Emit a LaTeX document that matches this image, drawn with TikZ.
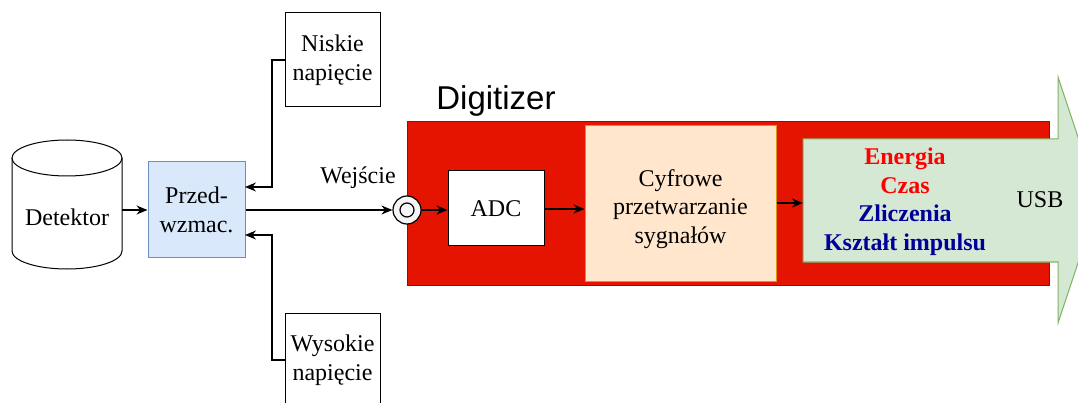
\documentclass[tikz,border=0pt]{standalone}
\usepackage{fontspec}
\setmainfont{Liberation Serif}
\newfontfamily\labelsans{Liberation Sans}
\usetikzlibrary{arrows.meta}
\definecolor{digired}{HTML}{E51400}
\definecolor{digiredline}{HTML}{B20000}
\definecolor{bluefill}{HTML}{DAE8FC}
\definecolor{blueline}{HTML}{6C8EBF}
\definecolor{orangefill}{HTML}{FFE6CC}
\definecolor{orangeline}{HTML}{D79B00}
\definecolor{greenfill}{HTML}{D5E8D4}
\definecolor{greenline}{HTML}{82B366}
\definecolor{txtred}{HTML}{FF0000}
\definecolor{txtblue}{HTML}{000099}
\tikzset{
  txt/.style={font=\fontsize{24}{28.5}\selectfont, align=center, inner sep=0pt},
  box/.style={draw, line width=1pt, txt},
  supply/.style={box, fill=white, minimum width=95, minimum height=94, font=\fontsize{24}{29.5}\selectfont},
  arr/.style={line width=1.2pt, -{Stealth[length=11pt,width=9pt]}},
}
\begin{document}
\begin{tikzpicture}[x=1pt,y=-1pt]
\useasboundingbox (0,0) rectangle (1078,403);
\clip (0,0) rectangle (1078,403);
\fill[white] (0,0) rectangle (1078,403);

% detector (cylinder)
\draw[line width=1pt, fill=white] (12,158) -- (12,251)
  arc[start angle=180, end angle=0, x radius=55, y radius=18] -- (122,158);
\draw[line width=1pt, fill=white] (67,158) ellipse [x radius=55, y radius=18];
\node[txt] (det) at (67,217) {Detektor};
\coordinate (detR) at (122,210);

% preamplifier
\node[box, draw=blueline, fill=bluefill, minimum width=97, minimum height=96] (pre) at (196.5,210) {Przed-\\wzmac.};
\coordinate (preN) at (245,187);
\coordinate (preS) at (245,235);

% supplies
\node[supply] (low) at (332.5,60) {Niskie\\napięcie};
\node[supply] (high) at (332.5,360) {Wysokie\\napięcie};

% digitizer body
\fill[digired] (407,121) rectangle (1049,285);
\draw[digiredline, line width=0.8pt] (407,121) rectangle (1049,285);
\node[font=\labelsans\fontsize{33}{38}\selectfont, inner sep=0pt] (digi) at (496,101) {Digitizer};

% input connector
\node[circle, draw, line width=1.2pt, fill=white!96!black, minimum size=28, inner sep=0pt] (conn) at (407,210) {};
\draw[line width=1.2pt, fill=white!96!black] (conn.center) circle[radius=7];
\node[txt] (wej) at (358,178) {Wejście};

% processing blocks
\node[box, fill=white, minimum width=96, minimum height=75] (adc) at (496,208.5) {ADC};
\node[box, draw=orangeline, fill=orangefill, minimum width=191, minimum height=155] (dsp) at (680.5,203.5) {};
\node[txt] (dsptxt) at (680.5,209) {Cyfrowe\\przetwarzanie\\sygnałów};

% output arrow (USB)
\draw[line width=1pt, draw=greenline, fill=greenfill]
  (803,139) -- (1058,139) -- (1058,77) -- (1099,200) -- (1058,323) -- (1058,262) -- (803,262) -- cycle;
\coordinate (outW) at (803,203);
\node[txt, font=\bfseries\fontsize{24}{28.5}\selectfont] (res) at (905,201.5)
  {\textcolor{txtred}{Energia}\\\textcolor{txtred}{Czas}\\\textcolor{txtblue}{Zliczenia}\\\textcolor{txtblue}{Kształt impulsu}};
\node[txt] (usb) at (1040,200) {USB};

% connectors
\draw[arr] (detR) -- (pre.west |- detR);
\draw[arr] (pre.east) -- (conn.west);
\draw[arr] (conn.east) -- (adc.west |- conn.east);
\draw[arr] (adc.east |- 0,209) -- (dsp.west |- 0,209);
\draw[arr] (dsp.east |- outW) -- (outW);
\draw[arr] (low.west) -- (272,60) -- (272,187) -- (preN);
\draw[arr] (high.west) -- (272,360) -- (272,235) -- (preS);
\end{tikzpicture}
\end{document}
